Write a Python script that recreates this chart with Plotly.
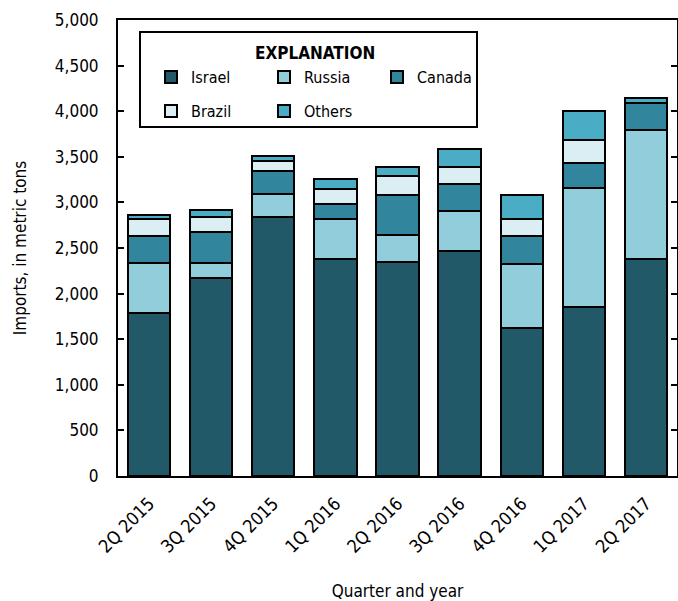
import plotly.graph_objects as go

quarters = ["2Q 2015", "3Q 2015", "4Q 2015", "1Q 2016", "2Q 2016",
            "3Q 2016", "4Q 2016", "1Q 2017", "2Q 2017"]
israel = [1784, 2167, 2836, 2378, 2346, 2471, 1623, 1849, 2376]
russia = [555, 172, 252, 437, 297, 431, 698, 1309, 1421]
canada = [296, 336, 256, 169, 438, 300, 314, 278, 296]
brazil = [180, 169, 114, 165, 208, 182, 187, 245, 0]
others = [44, 76, 51, 106, 103, 205, 259, 318, 55]

series = [
    ("Israel", israel, "#215968", "legend"),
    ("Russia", russia, "#92CDDC", "legend"),
    ("Canada", canada, "#31859C", "legend"),
    ("Brazil", brazil, "#DAEEF3", "legend2"),
    ("Others", others, "#4BACC6", "legend2"),
]

FONT = "Liberation Sans Narrow, Arial Narrow, DejaVu Sans Condensed, sans-serif"

fig = go.Figure()
for name, vals, color, lg in series:
    fig.add_trace(go.Bar(
        x=quarters, y=vals, name=name, legend=lg,
        marker=dict(color=color, line=dict(color="black", width=2)),
    ))

W, H = 678, 601
L, R, T, B = 118, 1, 20, 125
pw, ph = W - L - R, H - T - B

def px(x):
    return (x - L) / pw

def py(y):
    return (H - B - y) / ph

fig.update_layout(
    width=W, height=H,
    margin=dict(l=L, r=R, t=T, b=B, autoexpand=False),
    barmode="stack", bargap=0.32,
    plot_bgcolor="white", paper_bgcolor="white",
    font=dict(family=FONT, size=17, color="black"),
    legend=dict(orientation="h", x=px(151), y=py(77), xanchor="left", yanchor="middle",
                entrywidth=68, entrywidthmode="pixels", bgcolor="rgba(0,0,0,0)",
                font=dict(size=16), traceorder="normal"),
    legend2=dict(orientation="h", x=px(151), y=py(111), xanchor="left", yanchor="middle",
                 entrywidth=68, entrywidthmode="pixels", bgcolor="rgba(0,0,0,0)",
                 font=dict(size=16), traceorder="normal"),
    shapes=[dict(type="rect", xref="paper", yref="paper",
                 x0=px(140), x1=px(477), y0=py(127), y1=py(32),
                 line=dict(color="black", width=2), fillcolor="rgba(0,0,0,0)")],
    annotations=[dict(text="<b>EXPLANATION</b>", xref="paper", yref="paper",
                      x=px(315), y=py(53), showarrow=False,
                      xanchor="center", yanchor="middle", font=dict(size=17))],
)

fig.update_xaxes(
    showline=True, linecolor="black", linewidth=2, mirror=True, automargin=False,
    ticks="", tickangle=-45, tickfont=dict(size=18), ticklabelstandoff=8,
    title=dict(text="Quarter and year", font=dict(size=17), standoff=36),
)
fig.update_yaxes(
    range=[0, 5000], dtick=500, tickformat=",", automargin=False,
    showline=True, linecolor="black", linewidth=2, mirror="ticks",
    ticks="inside", ticklen=6, tickwidth=2, tickcolor="black",
    showgrid=False, zeroline=False, ticklabelstandoff=14,
    tickfont=dict(size=17),
    title=dict(text="Imports, in metric tons", font=dict(size=17), standoff=24),
)

fig.write_html("out.html",
               config={"displayModeBar": False},
               post_script="document.body.style.margin='0';document.body.style.overflow='hidden';")
